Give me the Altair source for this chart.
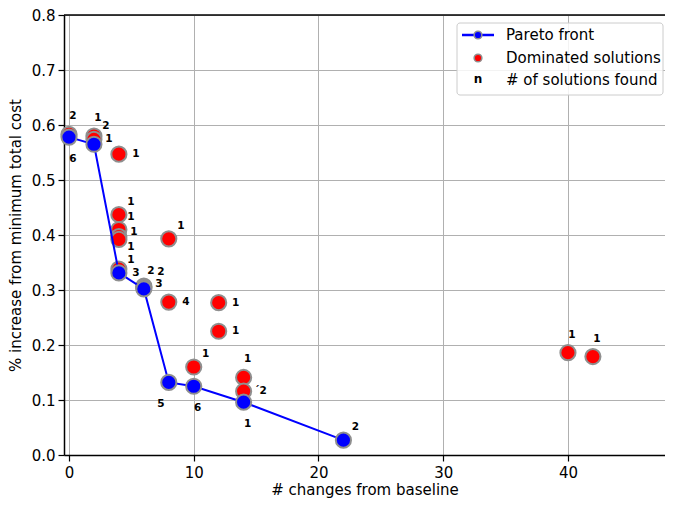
import altair as alt
import pandas as pd

# Pareto front (blue)
pareto_x = [0, 2, 4, 6, 8, 10, 14, 22]
pareto_y = [0.578, 0.565, 0.331, 0.302, 0.132, 0.125, 0.096, 0.027]
pareto_n = ["6", "1", "3", "3", "5", "6", "1", "2"]
pareto_pos = ["down", "rightup", "right", "rightup", "downleft", "down", "down", "upright"]

# Dominated solutions (red)
dom_x = [0, 2, 2, 4, 4, 4, 4, 4, 4, 6, 6, 8, 8, 10, 12, 12, 14, 14, 40, 42]
dom_y = [0.583, 0.580, 0.574, 0.547, 0.437, 0.410, 0.397, 0.392, 0.338, 0.307, 0.305,
         0.393, 0.278, 0.160, 0.277, 0.225, 0.141, 0.116, 0.186, 0.179]
dom_n = ["2", "1", "2", "1", "1", "1", "1", "1", "1", "2", "2", "1", "4", "1", "1", "1",
         "1", "´2", "1", "1"]
dom_pos = ["up", "up", "upright", "right", "upright", "upright", "rightup", "rightdown",
           "rightup2", "upnear", "upfar", "upright", "right", "upright", "right", "right",
           "up", "right", "up", "up"]

x_domain = [-0.4, 47.78]
y_domain = [0, 0.8]

offsets = {
    "up": (4, -18),
    "upnear": (7, -15),
    "upfar": (17, -15),
    "upright": (12, -13),
    "rightup": (15, -5),
    "rightup2": (12, -9),
    "right": (17, 0),
    "rightdown": (12, 8),
    "down": (4, 22),
    "downleft": (-8, 22),
}

FONT = "DejaVu Sans"

pareto = pd.DataFrame({"x": pareto_x, "y": pareto_y, "n": pareto_n, "pos": pareto_pos})
dom = pd.DataFrame({"x": dom_x, "y": dom_y, "n": dom_n, "pos": dom_pos})
labels = pd.concat([dom, pareto], ignore_index=True)

xs = alt.X("x:Q", scale=alt.Scale(domain=x_domain, nice=False, zero=False),
           axis=alt.Axis(values=[0, 10, 20, 30, 40], title="# changes from baseline",
                         format="d", labelPadding=4, titlePadding=2))
ys = alt.Y("y:Q", scale=alt.Scale(domain=y_domain, nice=False),
           axis=alt.Axis(values=[0, 0.1, 0.2, 0.3, 0.4, 0.5, 0.6, 0.7, 0.8], format=".1f",
                         title="% increase from minimum total cost",
                         labelPadding=3, titlePadding=8))

red_pts = alt.Chart(dom).mark_circle(
    size=230, color="#ff0000", opacity=1, stroke="#8f8f8f", strokeWidth=2
).encode(x=xs, y=ys)

line = alt.Chart(pareto).mark_line(color="#0000ff", strokeWidth=2).encode(
    x=alt.X("x:Q"), y=alt.Y("y:Q"), order="x:Q")

blue_pts = alt.Chart(pareto).mark_circle(
    size=230, color="#0000ff", opacity=1, stroke="#8f8f8f", strokeWidth=2
).encode(x=alt.X("x:Q"), y=alt.Y("y:Q"))

text_layers = []
for name, (dx, dy) in offsets.items():
    text_layers.append(
        alt.Chart(labels).transform_filter(alt.datum.pos == name).mark_text(
            dx=dx, dy=dy, fontSize=10.5, fontWeight="bold", font=FONT, color="black",
            align="center", baseline="middle"
        ).encode(x=alt.X("x:Q"), y=alt.Y("y:Q"), text="n:N")
    )

top_spine = alt.Chart(pd.DataFrame({"y": [y_domain[1]]})).mark_rule(
    color="black", strokeWidth=1.5).encode(y=alt.Y("y:Q"))

one = pd.DataFrame({"a": [0]})
leg_box = alt.Chart(one).mark_rect(
    fill="white", fillOpacity=0.85, stroke="#cccccc", strokeWidth=1, cornerRadius=3
).encode(x=alt.value(393), x2=alt.value(599), y=alt.value(8), y2=alt.value(80))
leg_line = alt.Chart(one).mark_rule(color="#0000ff", strokeWidth=2.5).encode(
    x=alt.value(398), x2=alt.value(430), y=alt.value(20))
leg_blue = alt.Chart(one).mark_circle(
    size=60, color="#0000ff", opacity=1, stroke="#8f8f8f", strokeWidth=1.5
).encode(x=alt.value(414), y=alt.value(20))
leg_red = alt.Chart(one).mark_circle(
    size=60, color="#ff0000", opacity=1, stroke="#8f8f8f", strokeWidth=1.5
).encode(x=alt.value(414), y=alt.value(43))
leg_n = alt.Chart(one).mark_text(
    text="n", fontSize=12, fontWeight="bold", font=FONT, color="black",
    align="center", baseline="middle"
).encode(x=alt.value(414), y=alt.value(64))
leg_texts = [
    alt.Chart(one).mark_text(text=t, fontSize=15, font=FONT, color="black",
                             align="left", baseline="middle").encode(
        x=alt.value(442), y=alt.value(yy))
    for t, yy in [("Pareto front", 20), ("Dominated solutions", 43),
                  ("# of solutions found", 65)]
]

chart = alt.layer(
    red_pts, line, blue_pts, *text_layers, top_spine,
    leg_box, leg_line, leg_blue, leg_red, leg_n, *leg_texts
).properties(
    width=601, height=440,
    padding={"left": 56, "top": 7, "right": 0, "bottom": 45},
    autosize="none",
).configure_view(stroke=None).configure_axis(
    grid=True, gridColor="#b0b0b0", gridWidth=1,
    domainColor="black", domainWidth=1.5,
    tickColor="black", tickSize=6, tickWidth=1.2,
    labelFont=FONT, labelFontSize=15, labelColor="black",
    titleFont=FONT, titleFontSize=15, titleColor="black", titleFontWeight="normal",
)

chart.save("out.html", embed_options={"renderer": "svg", "actions": False})
